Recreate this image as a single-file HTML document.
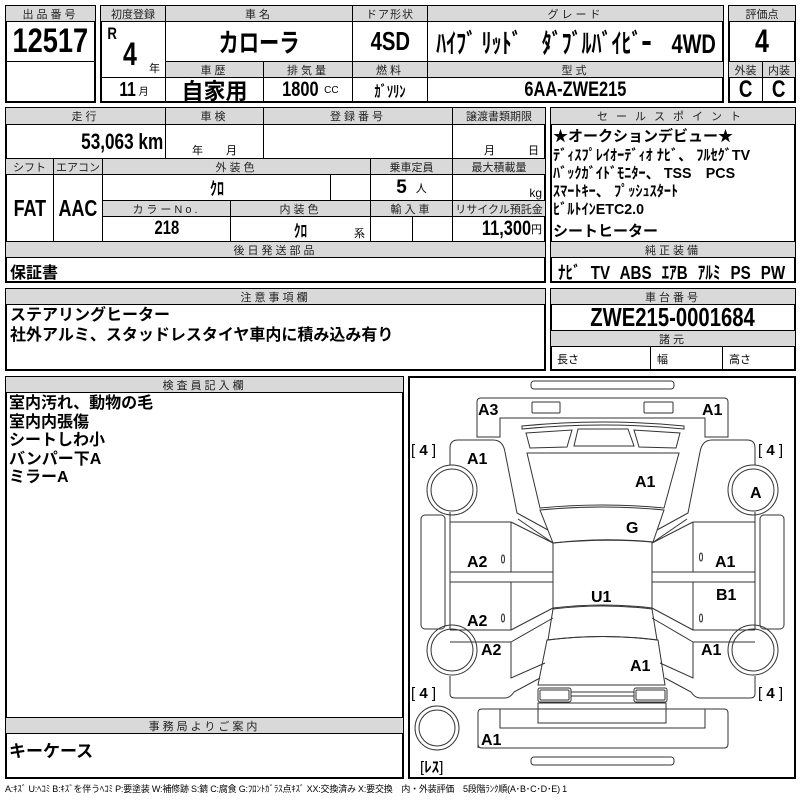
<!DOCTYPE html>
<html><head><meta charset="utf-8">
<style>
*{box-sizing:border-box;margin:0;padding:0}
body{width:800px;height:800px;background:#fff;position:relative;overflow:hidden;font-family:"Liberation Sans","Noto Sans CJK JP",sans-serif;color:#000}
.b{position:absolute;border:1px solid #000;display:flex;align-items:center;justify-content:center;white-space:nowrap}
.h{background:#d9d9d9;font-size:11px;color:#222;letter-spacing:3px;font-family:"Liberation Sans","Noto Sans CJK JP",sans-serif}
.o{position:absolute;border:2px solid #000}
.t{position:absolute;white-space:nowrap;font-weight:bold;transform-origin:0 0}
.v{font-weight:bold}
.n{display:inline-block;transform:scaleX(.78)}
</style></head><body>
<div class="o" style="left:5px;top:5px;width:91px;height:98px"></div>
<div class="o" style="left:100px;top:5px;width:624px;height:98px"></div>
<div class="o" style="left:728px;top:5px;width:68px;height:98px"></div>
<div class="o" style="left:5px;top:107px;width:541px;height:176px"></div>
<div class="o" style="left:550px;top:107px;width:246px;height:176px"></div>
<div class="o" style="left:5px;top:288px;width:541px;height:83px"></div>
<div class="o" style="left:550px;top:288px;width:246px;height:83px"></div>
<div class="o" style="left:5px;top:376px;width:399px;height:403px"></div>
<div class="o" style="left:408px;top:376px;width:388px;height:403px"></div>

<div class="b h" style="left:5px;top:5px;width:91px;height:17px">出品番号</div>
<div class="b v" style="left:5px;top:21px;width:91px;height:41px;font-size:34px"><span class="n" style="transform:scaleX(.8)">12517</span></div>
<div class="b h" style="left:100px;top:5px;width:66px;height:17px;letter-spacing:0">初度登録</div>
<div class="b h" style="left:165px;top:5px;width:188px;height:17px">車名</div>
<div class="b h" style="left:352px;top:5px;width:76px;height:17px;letter-spacing:1px">ドア形状</div>
<div class="b h" style="left:427px;top:5px;width:297px;height:17px">グレード</div>
<div class="b" style="left:100px;top:21px;width:66px;height:57px"></div>
<div class="t" style="left:106px;top:24px;font-size:17px"><span class="n">R</span></div>
<div class="t" style="left:121px;top:36px;font-size:32px"><span class="n">4</span></div>
<div class="t" style="left:149px;top:60px;font-size:11px;font-weight:normal">年</div>
<div class="b v" style="left:165px;top:21px;width:188px;height:41px;font-size:26px"><span class="n">カローラ</span></div>
<div class="b v" style="left:352px;top:21px;width:76px;height:41px;font-size:26px"><span class="n">4SD</span></div>
<div class="b v" style="left:427px;top:21px;width:297px;height:41px;font-size:27px"><span class="n" style="transform:scaleX(.74)">ﾊｲﾌﾞ ﾘｯﾄﾞ　ﾀﾞﾌﾞﾙﾊﾞｲﾋﾞｰ　4WD</span></div>
<div class="b h" style="left:165px;top:61px;width:99px;height:17px">車歴</div>
<div class="b h" style="left:263px;top:61px;width:90px;height:17px">排気量</div>
<div class="b h" style="left:352px;top:61px;width:76px;height:17px">燃料</div>
<div class="b h" style="left:427px;top:61px;width:297px;height:17px">型式</div>
<div class="b" style="left:100px;top:77px;width:66px;height:26px"><span class="v n" style="font-size:20px">11</span><span style="font-size:10px">月</span></div>
<div class="b v" style="left:165px;top:77px;width:99px;height:26px;font-size:22px">自家用</div>
<div class="b" style="left:263px;top:77px;width:90px;height:26px"><span class="v n" style="font-size:21px">1800</span><span style="font-size:10px">CC</span></div>
<div class="b v" style="left:352px;top:77px;width:76px;height:26px;font-size:16px"><span class="n">ｶﾞｿﾘﾝ</span></div>
<div class="b v" style="left:427px;top:77px;width:297px;height:26px;font-size:21px"><span class="n">6AA-ZWE215</span></div>
<div class="b h" style="left:728px;top:5px;width:68px;height:17px;letter-spacing:0">評価点</div>
<div class="b v" style="left:728px;top:21px;width:68px;height:41px;font-size:32px"><span class="n">4</span></div>
<div class="b h" style="left:728px;top:61px;width:35px;height:17px;letter-spacing:0">外装</div>
<div class="b h" style="left:762px;top:61px;width:34px;height:17px;letter-spacing:0">内装</div>
<div class="b v" style="left:728px;top:77px;width:35px;height:26px;font-size:24px"><span class="n">C</span></div>
<div class="b v" style="left:762px;top:77px;width:34px;height:26px;font-size:24px"><span class="n">C</span></div>

<div class="b h" style="left:5px;top:107px;width:161px;height:18px">走行</div>
<div class="b h" style="left:165px;top:107px;width:99px;height:18px">車検</div>
<div class="b h" style="left:263px;top:107px;width:190px;height:18px">登録番号</div>
<div class="b h" style="left:452px;top:107px;width:94px;height:18px;letter-spacing:0">譲渡書類期限</div>
<div class="b v" style="left:5px;top:124px;width:161px;height:35px;font-size:22px;justify-content:flex-end;padding-right:2px"><span class="n" style="transform-origin:100% 50%">53,063 km</span></div>
<div class="b" style="left:165px;top:124px;width:99px;height:35px;font-size:11px;align-items:flex-end;word-spacing:20px">年 月</div>
<div class="b" style="left:263px;top:124px;width:190px;height:35px"></div>
<div class="b" style="left:452px;top:124px;width:94px;height:35px;font-size:11px;align-items:flex-end;justify-content:flex-end;padding-right:6px;word-spacing:30px">月 日</div>
<div class="b h" style="left:5px;top:158px;width:49px;height:17px;letter-spacing:0">シフト</div>
<div class="b h" style="left:53px;top:158px;width:50px;height:17px;letter-spacing:0">エアコン</div>
<div class="b h" style="left:102px;top:158px;width:269px;height:17px">外装色</div>
<div class="b h" style="left:370px;top:158px;width:83px;height:17px;letter-spacing:0">乗車定員</div>
<div class="b h" style="left:452px;top:158px;width:94px;height:17px;letter-spacing:0">最大積載量</div>
<div class="b v" style="left:5px;top:174px;width:49px;height:68px;font-size:23px"><span class="n">FAT</span></div>
<div class="b v" style="left:53px;top:174px;width:50px;height:68px;font-size:23px"><span class="n">AAC</span></div>
<div class="b v" style="left:102px;top:174px;width:229px;height:27px;font-size:18px"><span class="n">ｸﾛ</span></div>
<div class="b" style="left:330px;top:174px;width:41px;height:27px"></div>
<div class="b" style="left:370px;top:174px;width:83px;height:27px"><span class="v" style="font-size:19px">5</span>&nbsp;&nbsp;<span style="font-size:11px">人</span></div>
<div class="b" style="left:452px;top:174px;width:94px;height:27px;font-size:12px;justify-content:flex-end;align-items:flex-end;padding-right:3px">kg</div>
<div class="b h" style="left:102px;top:200px;width:129px;height:17px">カラーNo.</div>
<div class="b h" style="left:230px;top:200px;width:141px;height:17px">内装色</div>
<div class="b h" style="left:370px;top:200px;width:83px;height:17px">輸入車</div>
<div class="b h" style="left:452px;top:200px;width:94px;height:17px;letter-spacing:0">リサイクル預託金</div>
<div class="b v" style="left:102px;top:216px;width:129px;height:26px;font-size:19px"><span class="n">218</span></div>
<div class="b v" style="left:230px;top:216px;width:141px;height:26px;font-size:17px"><span class="n">ｸﾛ</span></div>
<div class="t" style="left:354px;top:225px;font-size:11px;font-weight:normal">系</div>
<div class="b" style="left:370px;top:216px;width:43px;height:26px"></div>
<div class="b" style="left:412px;top:216px;width:41px;height:26px"></div>
<div class="b" style="left:452px;top:216px;width:94px;height:26px;justify-content:flex-end;padding-right:3px"><span class="v n" style="font-size:21px;transform-origin:100% 50%">11,300</span><span style="font-size:11px">円</span></div>
<div class="b h" style="left:5px;top:241px;width:541px;height:17px">後日発送部品</div>
<div class="t" style="left:10px;top:259px;font-size:16px">保証書</div>

<div class="b h" style="left:550px;top:107px;width:246px;height:18px;letter-spacing:8px">セールスポイント</div>
<div class="t" style="left:553px;top:127px;font-size:15px;line-height:19px">★オークションデビュー★</div>
<div class="t" style="left:553px;top:147px;font-size:15px;line-height:18px;transform:scaleX(.95)">ﾃﾞｨｽﾌﾟﾚｲｵｰﾃﾞｨｵ ﾅﾋﾞ、 ﾌﾙｾｸﾞTV<br>ﾊﾞｯｸｶﾞｲﾄﾞﾓﾆﾀｰ、 TSS　PCS<br>ｽﾏｰﾄｷｰ、 ﾌﾟｯｼｭｽﾀｰﾄ<br>ﾋﾞﾙﾄｲﾝETC2.0</div>
<div class="t" style="left:553px;top:220px;font-size:15px">シートヒーター</div>
<div class="b h" style="left:550px;top:241px;width:246px;height:17px">純正装備</div>
<div class="t" style="left:558px;top:259px;font-size:18px;word-spacing:7px;transform:scaleX(.84)">ﾅﾋﾞ TV ABS ｴｱB ｱﾙﾐ PS PW</div>

<div class="b h" style="left:5px;top:288px;width:541px;height:17px">注意事項欄</div>
<div class="t" style="left:10px;top:306px;font-size:16px;line-height:20px">ステアリングヒーター<br>社外アルミ、スタッドレスタイヤ車内に積み込み有り</div>
<div class="b h" style="left:550px;top:288px;width:246px;height:17px">車台番号</div>
<div class="b v" style="left:550px;top:304px;width:246px;height:27px;font-size:26px"><span class="n">ZWE215-0001684</span></div>
<div class="b h" style="left:550px;top:330px;width:246px;height:17px">諸元</div>
<div class="b" style="left:550px;top:346px;width:101px;height:25px;font-size:11px;justify-content:flex-start;padding-left:6px">長さ</div>
<div class="b" style="left:650px;top:346px;width:73px;height:25px;font-size:11px;justify-content:flex-start;padding-left:6px">幅</div>
<div class="b" style="left:722px;top:346px;width:74px;height:25px;font-size:11px;justify-content:flex-start;padding-left:6px">高さ</div>

<div class="b h" style="left:5px;top:376px;width:399px;height:17px">検査員記入欄</div>
<div class="t" style="left:9px;top:395px;font-size:16px;line-height:18.5px">室内汚れ、動物の毛<br>室内内張傷<br>シートしわ小<br>バンパー下A<br>ミラーA</div>
<div class="b h" style="left:5px;top:717px;width:399px;height:17px">事務局よりご案内</div>
<div class="t" style="left:9px;top:737px;font-size:17px">キーケース</div>

<div class="t" style="left:5px;top:782px;font-size:9px;font-weight:normal;letter-spacing:-0.2px">A:ｷｽﾞ U:ﾍｺﾐ B:ｷｽﾞを伴うﾍｺﾐ P:要塗装 W:補修跡 S:錆 C:腐食 G:ﾌﾛﾝﾄｶﾞﾗｽ点ｷｽﾞ XX:交換済み X:要交換　内・外装評価　5段階ﾗﾝｸ順(A･B･C･D･E) 1</div>

<svg style="position:absolute;left:0;top:0" width="800" height="800" viewBox="0 0 800 800" fill="none" stroke="#333" stroke-width="1">
<rect x="531" y="381" width="143" height="8" rx="3"/>
<path d="M477,437 L477,402 Q477,398 481,398 L724,398 Q728,398 728,402 L728,437 L705,437 L705,418 L500,418 L500,437 Z"/>
<rect x="532" y="402" width="28" height="11" rx="1"/>
<rect x="644" y="402" width="29" height="11" rx="1"/>
<path d="M522,426 Q603,418 684,426 L684,429 Q603,421 522,429 Z"/>
<path d="M526,433 L572,430 L567,447 L530,448 Z"/>
<path d="M578,429 L628,429 L634,446 L574,446 Z"/>
<path d="M634,430 L680,433 L676,448 L639,447 Z"/>
<path d="M527,453 L679,453 L664,508 Q603,502 540,508 Z"/>
<path d="M540,510 Q603,504 664,510 L653,542 Q603,537 553,543 Z"/>
<path d="M553,543 Q603,538 652,542 L652,608 Q603,602 553,608 Z"/>
<path d="M553,609 Q603,603 652,609 L657,640 Q603,633 548,640 Z"/>
<path d="M547,640 Q603,633 658,640 L665,685 L538,685 Z"/>
<rect x="538" y="688" width="33" height="14" rx="2"/>
<rect x="540" y="690" width="29" height="10" rx="1"/>
<rect x="634" y="688" width="33" height="14" rx="2"/>
<rect x="636" y="690" width="29" height="10" rx="1"/>
<path d="M571,692 L634,692 M571,696 L634,696"/>
<rect x="538" y="703" width="128" height="20"/>
<path d="M478,748 L478,713 Q478,709 482,709 L724,709 Q728,709 728,713 L728,744 Q728,748 724,748 L482,748 Q478,748 478,744 M500,709 L500,728 L705,728 L705,709"/>
<rect x="531" y="757" width="143" height="8" rx="3"/>
<path d="M450,465 L450,448 Q450,440 458,440 L493,440 Q503,440 505,452 L517,513 L548,530 M450,512 L450,522"/>
<path d="M518,519 L553,543"/>
<path d="M755,465 L755,448 Q755,440 747,440 L712,440 Q702,440 700,452 L688,513 L657,530 M755,512 L755,522"/>
<path d="M687,519 L652,543"/>
<circle cx="452" cy="490" r="25"/><circle cx="452" cy="490" r="21"/>
<circle cx="753" cy="490" r="25"/><circle cx="753" cy="490" r="21"/>
<circle cx="452" cy="650" r="25"/><circle cx="452" cy="650" r="21"/>
<circle cx="753" cy="650" r="25"/><circle cx="753" cy="650" r="21"/>
<circle cx="437" cy="728" r="22"/><circle cx="437" cy="728" r="18"/>
<rect x="421" y="515" width="24" height="114" rx="4"/>
<rect x="760" y="515" width="24" height="114" rx="4"/>
<path d="M450,522 L511,522 L511,572 M450,572 L553,572 M450,582 L553,582 M511,582 L511,630 L450,630 M511,522 L553,543 M511,630 L553,608"/>
<path d="M450,522 L450,630"/>
<path d="M755,522 L693,522 L693,572 M755,572 L652,572 M755,582 L652,582 M693,582 L693,630 L755,630 M693,522 L652,543 M693,630 L652,608"/>
<path d="M755,522 L755,630"/>
<path d="M450,676 L450,694 Q450,698 455,698 L505,698 Q510,698 514,692 L540,678 M511,642 L553,618 M511,642 L511,678 L545,663 M511,642 L450,642"/>
<path d="M755,676 L755,694 Q755,698 750,698 L700,698 Q695,698 691,692 L665,678 M693,642 L652,618 M693,642 L693,678 L660,663 M693,642 L755,642"/>
<g fill="none" stroke="#333"><ellipse cx="503" cy="559" rx="1.5" ry="4"/><ellipse cx="503" cy="618" rx="1.5" ry="4"/><ellipse cx="701" cy="557" rx="1.5" ry="4"/><ellipse cx="701" cy="618" rx="1.5" ry="4"/></g>
<g font-family="Liberation Sans, sans-serif" font-weight="bold" font-size="16" fill="#000" stroke="none">
<text x="478" y="415">A3</text><text x="702" y="415">A1</text>
<text x="467" y="464">A1</text><text x="635" y="487">A1</text><text x="750" y="498">A</text>
<text x="626" y="533">G</text>
<text x="467" y="567">A2</text><text x="715" y="567">A1</text>
<text x="591" y="602">U1</text><text x="716" y="600">B1</text>
<text x="467" y="626">A2</text><text x="481" y="655">A2</text><text x="701" y="655">A1</text>
<text x="630" y="671">A1</text><text x="481" y="745">A1</text>
</g>
<g font-family="Liberation Sans, sans-serif" font-size="15" fill="#000" stroke="none">
<text x="411" y="455">[ <tspan font-weight="bold">4</tspan> ]</text>
<text x="758" y="455">[ <tspan font-weight="bold">4</tspan> ]</text>
<text x="411" y="698">[ <tspan font-weight="bold">4</tspan> ]</text>
<text x="758" y="698">[ <tspan font-weight="bold">4</tspan> ]</text>
<text x="420" y="772" font-family="Liberation Sans, Noto Sans CJK JP, sans-serif">[<tspan font-weight="bold">ﾚｽ</tspan>]</text>
</g>
</svg>
</body></html>
